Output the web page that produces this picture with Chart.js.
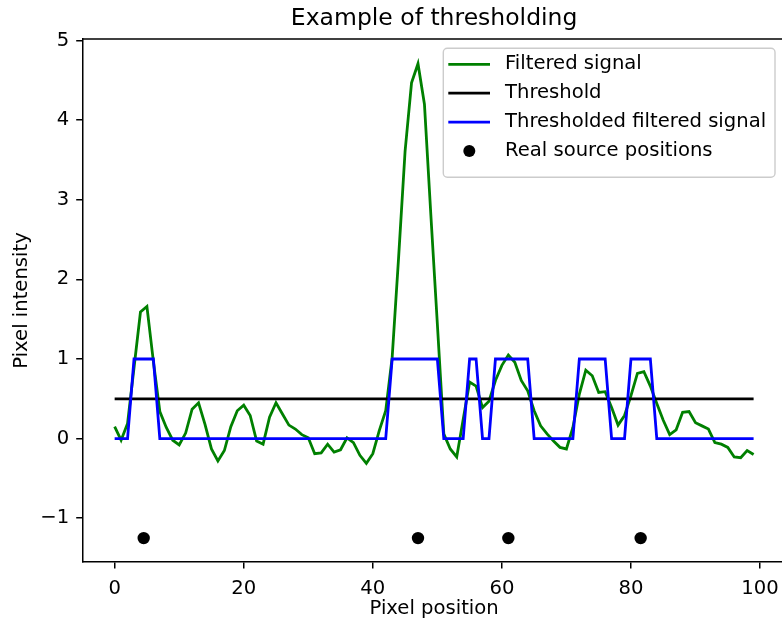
<!DOCTYPE html>
<html>
<head>
<meta charset="utf-8">
<script src="https://cdn.jsdelivr.net/npm/chart.js@4.4.1/dist/chart.umd.min.js"></script>
<style>
  html, body { margin: 0; padding: 0; background: #fff; }
  #wrap { width: 782px; height: 624px; }
</style>
</head>
<body>
<div id="wrap"><canvas id="myChart" width="782" height="624"></canvas></div>
<script>
// datos
var pixelPos = Array.from({ length: 100 }, (_, i) => i);
var filtered = [
  0.15, -0.02, 0.19, 0.89, 1.59, 1.66, 0.97, 0.34, 0.14, -0.02,
  -0.08, 0.07, 0.37, 0.45, 0.18, -0.13, -0.28, -0.15, 0.15, 0.35,
  0.42, 0.29, -0.03, -0.07, 0.27, 0.45, 0.31, 0.17, 0.12, 0.05,
  0.01, -0.19, -0.18, -0.07, -0.17, -0.14, 0.01, -0.05, -0.21, -0.31,
  -0.19, 0.10, 0.35, 1.02, 2.28, 3.61, 4.47, 4.71, 4.20, 2.80,
  1.44, 0.06, -0.13, -0.23, 0.24, 0.71, 0.66, 0.39, 0.47, 0.73,
  0.92, 1.05, 0.96, 0.73, 0.60, 0.35, 0.16, 0.06, -0.03, -0.11,
  -0.13, 0.14, 0.56, 0.86, 0.79, 0.58, 0.59, 0.39, 0.17, 0.29,
  0.54, 0.82, 0.84, 0.66, 0.44, 0.23, 0.05, 0.11, 0.33, 0.34,
  0.20, 0.16, 0.12, -0.05, -0.07, -0.11, -0.23, -0.24, -0.15, -0.20
];
var thresholded = [
  0, 0, 0, 1, 1, 1, 1, 0, 0, 0,
  0, 0, 0, 0, 0, 0, 0, 0, 0, 0,
  0, 0, 0, 0, 0, 0, 0, 0, 0, 0,
  0, 0, 0, 0, 0, 0, 0, 0, 0, 0,
  0, 0, 0, 1, 1, 1, 1, 1, 1, 1,
  1, 0, 0, 0, 0, 1, 1, 0, 0, 1,
  1, 1, 1, 1, 1, 0, 0, 0, 0, 0,
  0, 0, 1, 1, 1, 1, 1, 0, 0, 0,
  1, 1, 1, 1, 0, 0, 0, 0, 0, 0,
  0, 0, 0, 0, 0, 0, 0, 0, 0, 0
];
var thresholdValue = 0.5;
var sourcePos = [4.5, 47, 61, 81.5];
var sourceLevel = -1.25;
var xTicks = [0, 20, 40, 60, 80, 100];
var yTicks = [-1, 0, 1, 2, 3, 4, 5];

var FONT = 'DejaVu Sans';
var FS = 19.6;
var minus = v => v < 0 ? '\u2212' + Math.abs(v) : String(v);

// titulo, etiquetas, marco y leyenda
var extras = {
  id: 'extras',
  afterDatasetsDraw(chart) {
    var ctx = chart.ctx;
    var a = chart.chartArea;
    var xs = chart.scales.x;
    var cx = xs.getPixelForValue(49.5);
    ctx.save();
    // linea superior del marco
    ctx.strokeStyle = '#000';
    ctx.lineWidth = 1.5;
    ctx.beginPath();
    ctx.moveTo(a.left, a.top);
    ctx.lineTo(a.right, a.top);
    ctx.stroke();

    ctx.fillStyle = '#000';
    ctx.textAlign = 'center';
    ctx.textBaseline = 'middle';
    ctx.font = '23.5px "' + FONT + '"';
    ctx.fillText('Example of thresholding', cx, 19);
    ctx.font = FS + 'px "' + FONT + '"';
    ctx.fillText('Pixel position', cx, 609);
    ctx.save();
    ctx.translate(22, (a.top + a.bottom) / 2);
    ctx.rotate(-Math.PI / 2);
    ctx.fillText('Pixel intensity', 0, 0);
    ctx.restore();

    // leyenda
    var bx = 443.3, by = 48.3, bw = 331.7, bh = 129, r = 4;
    ctx.beginPath();
    ctx.moveTo(bx + r, by);
    ctx.arcTo(bx + bw, by, bx + bw, by + bh, r);
    ctx.arcTo(bx + bw, by + bh, bx, by + bh, r);
    ctx.arcTo(bx, by + bh, bx, by, r);
    ctx.arcTo(bx, by, bx + bw, by, r);
    ctx.closePath();
    ctx.fillStyle = 'rgba(255,255,255,0.8)';
    ctx.fill();
    ctx.strokeStyle = '#cccccc';
    ctx.lineWidth = 1.4;
    ctx.stroke();

    ctx.textAlign = 'left';
    chart.data.datasets.forEach((ds, k) => {
      var y = 64.3 + k * 28.9;
      if (ds.type === 'scatter') {
        ctx.fillStyle = ds.backgroundColor;
        ctx.beginPath();
        ctx.arc(469.3, y, 6, 0, Math.PI * 2);
        ctx.fill();
      } else {
        ctx.strokeStyle = ds.borderColor;
        ctx.lineWidth = 2.8;
        ctx.beginPath();
        ctx.moveTo(448.3, y);
        ctx.lineTo(490, y);
        ctx.stroke();
      }
      ctx.fillStyle = '#000';
      ctx.fillText(ds.label, 505, y);
    });
    ctx.restore();
  }
};

var axisCommon = {
  type: 'linear',
  grid: { display: true, drawOnChartArea: false, drawTicks: true, tickLength: 6.5, color: '#000', lineWidth: 1.5 },
  border: { display: true, color: '#000', width: 1.5 },
  ticks: { color: '#000', font: { family: FONT, size: FS }, callback: minus }
};

var ctx = document.getElementById('myChart').getContext('2d');
var chart = new Chart(ctx, {
  type: 'line',
  data: {
    datasets: [
      {
        label: 'Filtered signal',
        data: pixelPos.map((x, i) => ({ x: x, y: filtered[i] })),
        borderColor: 'green', borderWidth: 2.8, pointRadius: 0, tension: 0, fill: false, order: 4
      },
      {
        label: 'Threshold',
        data: [{ x: pixelPos[0], y: thresholdValue }, { x: pixelPos[pixelPos.length - 1], y: thresholdValue }],
        borderColor: '#000', borderWidth: 2.8, pointRadius: 0, fill: false, order: 3
      },
      {
        label: 'Thresholded filtered signal',
        data: pixelPos.map((x, i) => ({ x: x, y: thresholded[i] })),
        borderColor: '#0000ff', borderWidth: 2.8, pointRadius: 0, tension: 0, fill: false, order: 2
      },
      {
        type: 'scatter',
        label: 'Real source positions',
        data: sourcePos.map(x => ({ x: x, y: sourceLevel })),
        backgroundColor: '#000', borderWidth: 0, pointRadius: 6.2, order: 1
      }
    ]
  },
  options: {
    responsive: false,
    animation: false,
    layout: { autoPadding: false, padding: { top: 39, left: 0, right: 0, bottom: 0 } },
    plugins: { legend: { display: false }, tooltip: { enabled: false }, title: { display: false } },
    scales: {
      x: Object.assign({}, axisCommon, {
        min: -4.95, max: 103.4,
        ticks: Object.assign({}, axisCommon.ticks, { padding: 9, maxRotation: 0 }),
        afterBuildTicks: s => { s.ticks = xTicks.map(v => ({ value: v })); },
        afterFit: s => { s.height = 62; s.paddingLeft = 0; s.paddingRight = 0; }
      }),
      y: Object.assign({}, axisCommon, {
        min: -1.55, max: 5.02,
        ticks: Object.assign({}, axisCommon.ticks, { padding: 7 }),
        afterBuildTicks: s => { s.ticks = yTicks.map(v => ({ value: v })); },
        afterFit: s => { s.width = 82.7; s.paddingTop = 0; s.paddingBottom = 0; }
      })
    }
  },
  plugins: [extras]
});
</script>
</body>
</html>
